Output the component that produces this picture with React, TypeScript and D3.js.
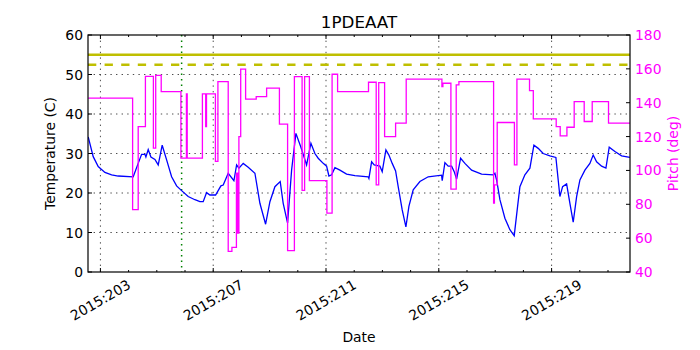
import React from 'react'
import * as d3 from 'd3'

// temperature series (day of year 2015, deg C)
const tempDays = [
  202.567, 202.745, 202.922, 203.16, 203.397, 203.631, 204.163, 204.34, 204.461, 204.578,
  204.613, 204.695, 204.791, 204.933, 205.05, 205.191, 205.348, 205.525, 205.702, 205.879,
  206.113, 206.351, 206.528, 206.645, 206.766, 206.883, 207.085, 207.273, 207.355, 207.532,
  207.734, 207.83, 207.911, 208.064, 208.241, 208.479, 208.656, 208.858, 209.011, 209.188,
  209.376, 209.482, 209.638, 209.78, 209.933, 210.11, 210.312, 210.465, 210.606, 210.723,
  210.901, 211.021, 211.103, 211.199, 211.316, 211.493, 211.73, 212.025, 212.496, 212.521,
  212.617, 212.709, 212.911, 212.993, 213.124, 213.23, 213.348, 213.468, 213.56, 213.702,
  213.833, 213.94, 214.092, 214.33, 214.624, 215.099, 215.121, 215.216, 215.333, 215.454,
  215.546, 215.631, 215.773, 215.926, 216.163, 216.518, 216.929, 216.989, 217.05, 217.167,
  217.344, 217.521, 217.674, 217.794, 217.876, 218.053, 218.23, 218.372, 218.525, 218.702,
  218.94, 219.152, 219.294, 219.39, 219.532, 219.649, 219.766, 219.887, 220.004, 220.181,
  220.358, 220.475, 220.596, 220.773, 220.926, 221.043, 221.245, 221.482, 221.777,
]
const tempValues = [
  34.2, 29.2, 26.7, 25.2, 24.6, 24.3, 24.1, 27.5, 29.8, 29.8,
  29.1, 31, 29.1, 28.5, 27.1, 32.1, 28.4, 24.1, 21.8, 20.6,
  19.1, 18.3, 17.8, 17.8, 20.1, 19.5, 19.5, 21.8, 22, 25,
  23.1, 27.1, 26.3, 27.5, 26.5, 25, 17.4, 12.1, 17.8, 21.6,
  22.9, 17.4, 12.4, 25.8, 35.1, 31.6, 27.1, 32.6, 30, 28.8,
  27.5, 26.8, 24.3, 24.6, 26.4, 25.8, 24.8, 24.4, 24.1, 23.7,
  27.9, 27.1, 26.8, 25.4, 30.9, 29.6, 27.5, 25.6, 21.6, 15.7,
  11.4, 16.6, 20.8, 22.9, 24.1, 24.5, 23.1, 27.7, 26.8, 26.8,
  25.4, 23.5, 28.8, 27.5, 25.8, 24.8, 24.6, 25, 23.3, 18.3,
  13.6, 10.7, 9.2, 16.6, 21.6, 24.6, 26.3, 32.1, 31.3, 30,
  29.4, 29, 19.1, 21.6, 22.3, 17.4, 12.6, 19.1, 23.3, 25.8,
  27.5, 29.6, 27.9, 26.8, 26.3, 31.6, 30.5, 29.4, 29,
]

// pitch series (stepwise, deg)
const pitchDays = [
  202.567, 204.142, 204.34, 204.596, 204.879, 204.961, 205.156, 205.855, 206.05, 206.078,
  206.617, 206.734, 206.762, 207.078, 207.167, 207.532, 207.663, 207.823, 207.869, 207.911,
  207.975, 208.149, 208.525, 208.894, 209.348, 209.638, 209.879, 210.152, 210.241, 210.411,
  211.032, 211.216, 211.411, 212.507, 212.78, 212.869, 213.078, 213.468, 213.844, 215.11,
  215.145, 215.429, 215.617, 215.713, 216.943, 216.972, 217.071, 217.681, 217.77, 218.217,
  218.351, 219.163, 219.305, 219.543, 219.801, 220.156, 220.44, 221.018, 221.777,
]
const pitchValues = [
  142.7, 76.8, 125.9, 155.6, 113.2, 156.2, 146.6, 107.3, 145.2, 107.3,
  145.2, 125.9, 145.2, 105.3, 152.5, 52.2, 54.5, 98.4, 63, 120,
  159.8, 142.1, 143.6, 148.6, 127.3, 52.6, 155.4, 88.2, 155.4, 94,
  74.8, 156.8, 146.6, 152.1, 91.5, 151.9, 120, 127.9, 153.9, 149.5,
  151.5, 89, 150.5, 152.5, 80.7, 91.5, 128.3, 103.3, 153.9, 147.1,
  130.4, 125.9, 120.4, 125.5, 140.7, 128.9, 140.7, 127.9, 127.9,
]

const limitSolid = 55
const limitDashed = 52.5
const markerDay = 205.88

const dayDomain = [202.56, 221.78]
const majorDays = [203, 207, 211, 215, 219]
const minorDays = d3.range(203, 222)
const tempTicks = [0, 10, 20, 30, 40, 50, 60]
const pitchTicks = [40, 60, 80, 100, 120, 140, 160, 180]

const W = 700
const H = 350
const m = { top: 35, right: 70, bottom: 78, left: 88 }
const font = 'DejaVu Sans, sans-serif'

export default function App() {
  const x = d3.scaleLinear().domain(dayDomain).range([m.left, W - m.right])
  const y = d3.scaleLinear().domain([0, 60]).range([H - m.bottom, m.top])
  const y2 = d3.scaleLinear().domain([40, 180]).range([H - m.bottom, m.top])
  const x0 = m.left, x1 = W - m.right, yb = H - m.bottom, yt = m.top

  const tempLine = d3.line<number>().x((d, i) => x(tempDays[i])).y(d => y(d))
  const pitchLine = d3.line<number>().curve(d3.curveStepAfter).x((d, i) => x(pitchDays[i])).y(d => y2(d))

  return (
    <svg width={W} height={H} style={{ position: 'absolute', left: 0, top: 0, background: '#fff' }} fontFamily={font}>
      <defs>
        <clipPath id="plot"><rect x={x0} y={yt} width={x1 - x0} height={yb - yt} /></clipPath>
      </defs>
      {/* grid */}
      {majorDays.map(d => (
        <line key={'gx' + d} x1={x(d)} x2={x(d)} y1={yt} y2={yb} stroke="#000" strokeWidth={0.7} strokeDasharray="1.4 4.2" />
      ))}
      {tempTicks.slice(1, -1).map(t => (
        <line key={'gy' + t} x1={x0} x2={x1} y1={y(t)} y2={y(t)} stroke="#000" strokeWidth={0.7} strokeDasharray="1.4 4.2" />
      ))}
      <g clipPath="url(#plot)">
        <line x1={x(markerDay)} x2={x(markerDay)} y1={yt} y2={yb} stroke="#008000" strokeWidth={1.5} strokeDasharray="1.5 4" />
        <path d={tempLine(tempValues) || ''} fill="none" stroke="#0000ff" strokeWidth={1.3} />
        <path d={pitchLine(pitchValues) || ''} fill="none" stroke="#ff00ff" strokeWidth={1.3} />
        <line x1={x0} x2={x1} y1={y(limitSolid)} y2={y(limitSolid)} stroke="#bfbf00" strokeWidth={2.5} />
        <line x1={x0} x2={x1} y1={y(limitDashed)} y2={y(limitDashed)} stroke="#bfbf00" strokeWidth={2.5} strokeDasharray="8.3 8.3" />
      </g>
      {/* x ticks top & bottom */}
      {minorDays.map(d => {
        const len = majorDays.includes(d) ? 4 : 2
        return (
          <g key={'tx' + d}>
            <line x1={x(d)} x2={x(d)} y1={yb} y2={yb - len} stroke="#000" />
            <line x1={x(d)} x2={x(d)} y1={yt} y2={yt + len} stroke="#000" />
          </g>
        )
      })}
      {majorDays.map(d => (
        <text key={'lx' + d} transform={`translate(${x(d)},${yb + 28}) rotate(-30)`} textAnchor="middle" dominantBaseline="central" fontSize={13.9}>
          {'2015:' + d}
        </text>
      ))}
      {/* left axis */}
      {tempTicks.map(t => (
        <g key={'ty' + t}>
          <line x1={x0} x2={x0 + 4} y1={y(t)} y2={y(t)} stroke="#000" />
          <text x={x0 - 5} y={y(t)} textAnchor="end" dominantBaseline="central" fontSize={13.9}>{t}</text>
        </g>
      ))}
      {/* right axis */}
      {pitchTicks.map(t => (
        <g key={'tp' + t}>
          <line x1={x1} x2={x1 - 4} y1={y2(t)} y2={y2(t)} stroke="#000" />
          <text x={x1 + 5} y={y2(t)} textAnchor="start" dominantBaseline="central" fontSize={13.9} fill="#ff00ff">{t}</text>
        </g>
      ))}
      <rect x={x0} y={yt} width={x1 - x0} height={yb - yt} fill="none" stroke="#000" strokeWidth={1.2} />
      <text x={(x0 + x1) / 2} y={28} textAnchor="middle" fontSize={16.7}>1PDEAAT</text>
      <text x={(x0 + x1) / 2} y={342} textAnchor="middle" fontSize={13.9}>Date</text>
      <text transform={`translate(55,${(yt + yb) / 2}) rotate(-90)`} textAnchor="middle" fontSize={13.9}>Temperature (C)</text>
      <text transform={`translate(678,${(yt + yb) / 2}) rotate(-90)`} textAnchor="middle" fontSize={13.9} fill="#ff00ff">Pitch (deg)</text>
    </svg>
  )
}
